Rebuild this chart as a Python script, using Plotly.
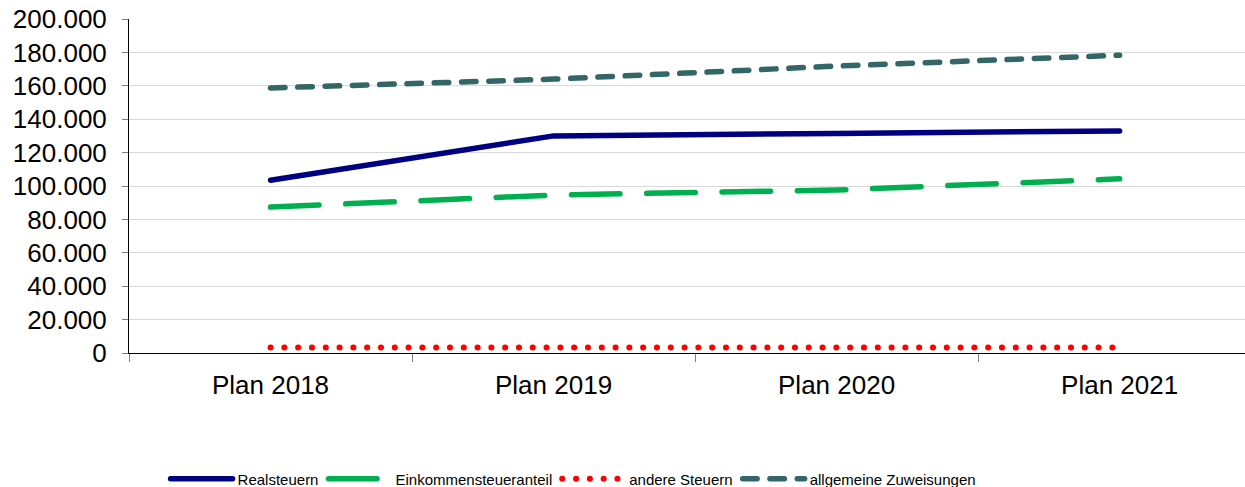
import plotly.graph_objects as go

categories = ["Plan 2018", "Plan 2019", "Plan 2020", "Plan 2021"]
realsteuern = [103500, 130000, 131500, 133000]
einkommensteueranteil = [87400, 94600, 97600, 104300]
andere_steuern = [3300, 3300, 3300, 3300]
allgemeine_zuweisungen = [158700, 164000, 171800, 178300]

series = [
    ("Realsteuern", realsteuern, "#000080", "solid", 5.5),
    ("Einkommensteueranteil", einkommensteueranteil, "#00B050", "48.5px,26.8px", 5.5),
    ("andere Steuern", andere_steuern, "#FF0000", "0.1px,13.7px", 6),
    ("allgemeine Zuweisungen", allgemeine_zuweisungen, "#336666", "14.5px,12.8px", 5.5),
]

fig = go.Figure()
for name, vals, color, dash, w in series:
    fig.add_trace(go.Scatter(
        x=categories, y=vals, name=name, mode="lines",
        line=dict(color=color, width=w, dash=dash),
    ))

fig.update_layout(
    width=1245, height=487,
    margin=dict(l=129, r=0, t=19, b=134),
    paper_bgcolor="white", plot_bgcolor="white",
    font=dict(family="Liberation Sans, Arial, sans-serif", color="black"),
    separators=",.",
    showlegend=True,
    legend=dict(
        orientation="h", xref="container", yref="container",
        x=0.133, xanchor="left", y=0.0164, yanchor="middle",
        font=dict(size=15, color="black"),
        itemwidth=62, tracegroupgap=0,
    ),
    xaxis=dict(
        type="category", range=[-0.5, 3.443], tickson="boundaries",
        ticks="outside", ticklen=8, tickcolor="#808080",
        showline=True, linecolor="black", linewidth=1,
        showgrid=False, tickfont=dict(size=26), ticklabelstandoff=9,
        automargin=False,
    ),
    yaxis=dict(
        range=[0, 200000], dtick=20000, tickformat=",d",
        ticks="outside", ticklen=6, tickcolor="#808080",
        showline=True, linecolor="black", linewidth=1,
        showgrid=True, gridcolor="#D9D9D9", gridwidth=1,
        zeroline=False, tickfont=dict(size=26), ticklabelstandoff=10,
        automargin=False,
    ),
)

post = """
document.body.style.margin='0';
function rnd(){document.querySelectorAll('path.js-line').forEach(function(p){p.style.strokeLinecap='round';p.style.strokeLinejoin='round';});}
rnd();
var gd=document.getElementById('{plot_id}');
if(gd && gd.on){gd.on('plotly_afterplot', rnd);}
"""

fig.write_html("out.html", post_script=post, config={"displayModeBar": False})
